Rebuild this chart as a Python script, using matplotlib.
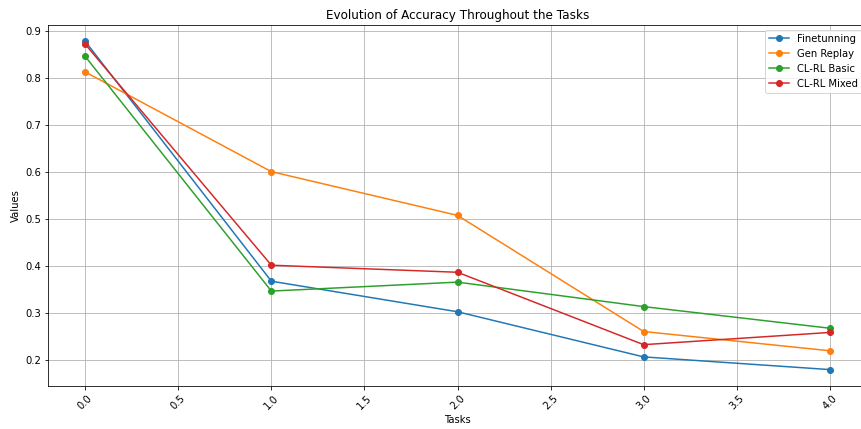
import matplotlib
matplotlib.use("Agg")
import matplotlib.pyplot as plt

tasks = [0, 1, 2, 3, 4]
finetunning = [0.877, 0.367, 0.302, 0.206, 0.179]
gen_replay = [0.812, 0.600, 0.507, 0.260, 0.219]
clrl_basic = [0.845, 0.346, 0.365, 0.313, 0.267]
clrl_mixed = [0.871, 0.401, 0.386, 0.232, 0.258]

W, H = 861, 429
fig = plt.figure(figsize=(W / 72, H / 72), dpi=72)
ax = fig.add_axes([48 / W, 1 - 386 / H, (867 - 48) / W, (386 - 25) / H])

ax.plot(tasks, finetunning, marker='o', label='Finetunning')
ax.plot(tasks, gen_replay, marker='o', label='Gen Replay')
ax.plot(tasks, clrl_basic, marker='o', label='CL-RL Basic')
ax.plot(tasks, clrl_mixed, marker='o', label='CL-RL Mixed')

ax.set_title('Evolution of Accuracy Throughout the Tasks')
ax.set_xlabel('Tasks')
ax.set_ylabel('Values')
ax.grid(True)
ax.legend(loc='upper right')
plt.setp(ax.get_xticklabels(), rotation=45)

fig.savefig('out.png', dpi=72)
